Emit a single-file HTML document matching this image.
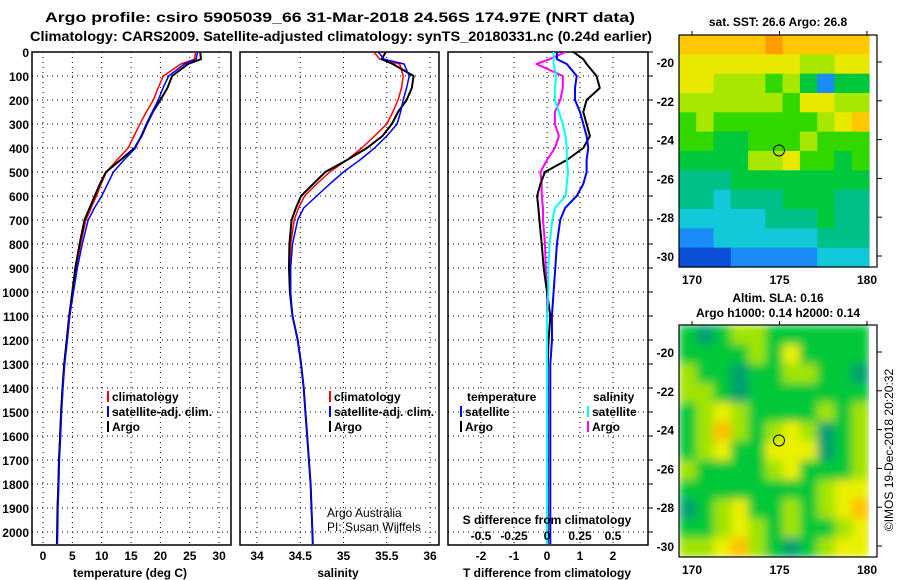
<!DOCTYPE html>
<html><head><meta charset="utf-8"><style>
html,body{margin:0;padding:0;background:#fff;width:900px;height:580px;overflow:hidden}
svg{display:block;font-family:"Liberation Sans",Arial,sans-serif}
.b{font-weight:bold;font-size:12px}
</style></head><body>
<svg id="chart" width="900" height="580" viewBox="0 0 900 580">
<defs>
<clipPath id="c1"><rect x="32" y="52" width="199" height="493"/></clipPath>
<clipPath id="c2"><rect x="240" y="52" width="199" height="493"/></clipPath>
<clipPath id="c3"><rect x="448" y="52" width="200" height="493"/></clipPath>
<clipPath id="cm2"><rect x="679" y="325" width="190" height="232"/></clipPath>
<filter id="blur" x="0" y="0" width="1" height="1"><feGaussianBlur stdDeviation="4.5" edgeMode="duplicate"/></filter>
</defs>
<text x="340" y="22" text-anchor="middle" font-weight="bold" font-size="14" textLength="590" lengthAdjust="spacingAndGlyphs">Argo profile: csiro 5905039_66 31-Mar-2018 24.56S 174.97E (NRT data)</text>
<text x="341" y="41" text-anchor="middle" font-weight="bold" font-size="14" textLength="622" lengthAdjust="spacingAndGlyphs">Climatology: CARS2009. Satellite-adjusted climatology: synTS_20180331.nc (0.24d earlier)</text>
<g id="panels"></g>
<g id="maps"></g>
<text transform="translate(893,450) rotate(-90)" text-anchor="middle" font-size="12">©IMOS 19-Dec-2018 20:20:32</text>
</svg>
<script>
const depths = [0,30,50,100,150,200,250,300,350,400,450,500,550,600,650,700,800,900,1000,1100,1200,1300,1400,1500,1600,1700,1800,1900,2000,2050];
const tempClim = [26.0,25.8,23.5,20.5,19.6,18.8,17.6,16.5,15.5,14.5,12.6,10.8,9.9,9.1,8.2,7.3,6.4,5.6,5.0,4.4,4.0,3.6,3.3,3.07,2.9,2.7,2.6,2.45,2.4,2.35];
const tempSat = [26.3,26.1,24.1,21.4,20.45,19.65,18.6,17.6,16.7,15.75,13.8,12.0,11.0,10.0,8.75,7.7,6.7,5.85,5.2,4.55,4.15,3.7,3.4,3.17,3.0,2.8,2.7,2.55,2.5,2.45];
const tempArgo = [26.8,26.9,24.7,22.0,21.2,20.0,18.7,17.7,16.8,15.6,13.2,10.74,9.7,8.8,7.94,7.07,6.24,5.5,5.0,4.5,4.05,3.62,3.32,3.09,2.92,2.72,2.62,2.47,2.42,2.37];
const salClim = [35.35,35.42,35.65,35.69,35.67,35.63,35.57,35.50,35.36,35.21,35.04,34.84,34.69,34.55,34.48,34.43,34.39,34.38,34.38,34.41,34.47,34.51,34.54,34.56,34.58,34.60,34.62,34.63,34.64,34.645];
const salSat = [35.40,35.47,35.70,35.76,35.73,35.69,35.66,35.62,35.50,35.36,35.19,35.00,34.84,34.69,34.54,34.47,34.41,34.39,34.39,34.41,34.47,34.51,34.54,34.56,34.58,34.60,34.62,34.63,34.64,34.645];
const salArgo = [35.49,35.44,35.57,35.81,35.79,35.73,35.63,35.56,35.45,35.27,35.04,34.79,34.65,34.51,34.45,34.40,34.375,34.37,34.38,34.41,34.47,34.51,34.54,34.56,34.58,34.60,34.62,34.63,34.64,34.645];
const depthTicks = [0,100,200,300,400,500,600,700,800,900,1000,1100,1200,1300,1400,1500,1600,1700,1800,1900,2000];
const tempTicks = [0,5,10,15,20,25,30];
const salTicks = [34,34.5,35,35.5,36];
const salTickLabels = ["34","34.5","35","35.5","36"];
const tdiffTicks = [-2,-1,0,1,2];
const sdiffTicks = [-0.5,-0.25,0,0.25,0.5];
const sdiffTickLabels = ["-0.5","-0.25","0","0.25","0.5"];
const mapLats = [-20,-22,-24,-26,-28,-30];
const mapLons = [170,175,180];
const profLon = 174.97, profLat = -24.56;
const sstGrid = [
[8,8,8,8,8,9,8,8,8,8,8],
[7,7,7,7,7,7,7,6,6,7,7],
[7,7,6,6,6,5,6,4,1,4,4],
[6,6,6,6,6,6,5,7,7,6,6],
[5,6,5,5,5,5,5,5,6,7,8],
[5,5,4,4,5,5,5,6,5,5,5],
[4,4,4,4,6,6,7,5,5,4,5],
[3,3,3,4,4,4,4,4,4,4,4],
[3,3,2,3,3,3,4,4,4,3,3],
[2,2,2,2,2,3,3,3,4,3,3],
[1,1,2,2,2,2,2,2,3,3,3],
[0,0,0,1,1,1,1,1,2,2,2]];
const slaGrid = [
[1,0,1,2,2,1,1,1,1,1,1],
[1,1,1,1,2,1,3,1,1,1,1],
[2,1,1,0,1,1,2,2,1,1,0],
[2,2,1,0,1,1,1,1,1,1,1],
[1,2,3,2,1,1,1,1,2,1,2],
[1,2,4,2,1,2,3,2,0,1,2],
[1,2,3,1,1,3,3,3,0,1,2],
[2,1,1,1,1,2,3,1,1,1,2],
[1,1,1,1,1,1,1,1,2,3,3],
[0,1,2,3,1,1,2,1,2,3,4],
[1,1,2,3,2,1,2,1,1,2,3],
[2,2,3,4,2,1,0,1,2,3,3]];
const sstColors = ["#0a4fd6","#1a8cf5","#10c8d8","#00c08a","#00c83c","#30d800","#a8e800","#e8e800","#ffc800","#ff9c00"];
const slaColors = ["#00a070","#00c838","#a0e400","#eaf000","#ffc000"];

const NS="http://www.w3.org/2000/svg";
function mk(tag, attrs, parent, txt){const e=document.createElementNS(NS,tag);for(const k in attrs)e.setAttribute(k,attrs[k]);if(txt!==undefined)e.textContent=txt;parent.appendChild(e);return e;}
const P=document.getElementById('panels');
const yD=d=>52+0.24*d;
const xT=t=>43+t*5.87;
const xS=s=>257+(s-34)*86.5;
const xTd=v=>547+v*33;
const xSd=v=>547+v*132;

function frame(x0,x1,name,ticksX,fx,withYLabels){
  const g=mk('g',{},P);
  
  
  depthTicks.forEach(d=>{
    const l=mk('line',{x1:x0,x2:x1,y1:yD(d),y2:yD(d),stroke:'#000','stroke-width':1,'stroke-dasharray':'1,4'},g);
    
    
    if(withYLabels){
      const t=mk('text',{x:29,y:yD(d)+5,'text-anchor':'end',class:'b'},g,String(d));
      
      
    }
  });
  ticksX.forEach(v=>{
    const l=mk('line',{x1:fx(v),x2:fx(v),y1:52,y2:545,stroke:'#000','stroke-width':1,'stroke-dasharray':'1,4'},g);
    
    
  });
  const r=mk('rect',{x:x0,y:52,width:x1-x0,height:493,fill:'none',stroke:'#000','stroke-width':1.5},g);
  
  
  return g;
}
function line(g,xs,fx,color,w,clip,name){
  const pts=depths.map((d,i)=>fx(xs[i]).toFixed(1)+','+yD(d).toFixed(1)).join(' ');
  const p=mk('polyline',{points:pts,fill:'none',stroke:color,'stroke-width':w,'clip-path':'url(#'+clip+')','stroke-linejoin':'round'},g);
  
  
}
function legend(g,x,y,items){
  items.forEach((it,i)=>{
    const r=mk('rect',{x:x,y:y+i*15-10,width:2,height:11,fill:it[0]},g);
    
    
    const t=mk('text',{x:x+5,y:y+i*15,class:'b'},g,it[1]);
    
    
  });
}
const g1=frame(32,231,'temperature-panel',tempTicks,xT,true);
line(g1,tempClim,xT,'#f00',1.5,'c1','temp-climatology-line');
line(g1,tempArgo,xT,'#000',2,'c1','temp-argo-line');
line(g1,tempSat,xT,'#00f',1.5,'c1','temp-satellite-line');
tempTicks.forEach(v=>{const t=mk('text',{x:xT(v),y:560,'text-anchor':'middle',class:'b'},g1,String(v));});
let t1=mk('text',{x:130,y:577,'text-anchor':'middle',class:'b'},g1,'temperature (deg C)');


legend(g1,107,401,[['#f00','climatology'],['#00f','satellite-adj. clim.'],['#000','Argo']]);
const g2=frame(240,439,'salinity-panel',salTicks,xS,false);
line(g2,salClim,xS,'#f00',1.5,'c2','sal-climatology-line');
line(g2,salArgo,xS,'#000',2,'c2','sal-argo-line');
line(g2,salSat,xS,'#00f',1.5,'c2','sal-satellite-line');
salTicks.forEach((v,i)=>{const t=mk('text',{x:xS(v),y:560,'text-anchor':'middle',class:'b'},g2,salTickLabels[i]);});
let t2=mk('text',{x:338,y:577,'text-anchor':'middle',class:'b'},g2,'salinity');


legend(g2,329,401,[['#f00','climatology'],['#00f','satellite-adj. clim.'],['#000','Argo']]);
let c1=mk('text',{x:327,y:517,'font-size':12},g2,'Argo Australia');


let c2=mk('text',{x:327,y:531,'font-size':12},g2,'PI: Susan Wijffels');


const g3=frame(448,648,'difference-panel',tdiffTicks,xTd,false);
depthTicks.forEach(d=>{const l=mk('line',{x1:648,x2:653,y1:yD(d),y2:yD(d),stroke:'#000'},g3);});
const dTsat=tempSat.map((v,i)=>v-tempClim[i]);
const dTargo=tempArgo.map((v,i)=>v-tempClim[i]);
const dSsat=salSat.map((v,i)=>v-salClim[i]);
const dSargo=salArgo.map((v,i)=>v-salClim[i]);
line(g3,dSargo,xSd,'#f0f',2,'c3','sal-argo-diff-line');
line(g3,dTargo,xTd,'#000',2,'c3','temp-argo-diff-line');
line(g3,dTsat,xTd,'#00f',2,'c3','temp-satellite-diff-line');
line(g3,dSsat,xSd,'#0ff',2,'c3','sal-satellite-diff-line');
tdiffTicks.forEach(v=>{const t=mk('text',{x:xTd(v),y:560,'text-anchor':'middle',class:'b'},g3,String(v));});
sdiffTicks.forEach((v,i)=>{const t=mk('text',{x:xSd(v),y:540,'text-anchor':'middle',class:'b'},g3,sdiffTickLabels[i]);});
let t3=mk('text',{x:547,y:577,'text-anchor':'middle',class:'b'},g3,'T difference from climatology');


let t4=mk('text',{x:547,y:524,'text-anchor':'middle',class:'b'},g3,'S difference from climatology');


let lt=mk('text',{x:467,y:401,class:'b'},g3,'temperature');


legend(g3,460,416,[['#00f','satellite'],['#000','Argo']]);
let ls=mk('text',{x:593,y:401,class:'b'},g3,'salinity');


legend(g3,587,416,[['#0ff','satellite'],['#f0f','Argo']]);

const M=document.getElementById('maps');
function drawMap(y0,grid,colors,name,blur,titles){
  const g=mk('g',{},M);
  
  
  const x0=679,w=190,h=232,rows=grid.length,cols=grid[0].length;
  const xL=lon=>692+(lon-170)*17.5;
  const yL=lat=>y0+27+(-20-lat)*19.4;
  const cg=mk('g',blur?{filter:'url(#blur)','clip-path':'url(#cm2)'}:{},g);
  grid.forEach((row,r)=>row.forEach((v,c)=>{
    const cell=mk('rect',{x:x0+c*w/cols,y:y0+r*h/rows,width:w/cols+0.6,height:h/rows+0.6,fill:colors[v]},cg);
    
    
  }));
  const fr=mk('rect',{x:x0,y:y0,width:198,height:h,fill:'none',stroke:'#000','stroke-width':1.2},g);
  
  
  mapLats.forEach(lat=>{
    mk('line',{x1:877,x2:882,y1:yL(lat),y2:yL(lat),stroke:'#000'},g);
    const t=mk('text',{x:674,y:yL(lat)+5,'text-anchor':'end',class:'b'},g,String(lat));
    
    
  });
  mapLons.forEach(lon=>{
    mk('line',{x1:xL(lon),x2:xL(lon),y1:y0-4,y2:y0,stroke:'#000'},g);
    const t=mk('text',{x:xL(lon),y:y0+h+17,'text-anchor':'middle',class:'b'},g,String(lon));
    
    
  });
  const m=mk('circle',{cx:xL(profLon),cy:yL(profLat),r:5.5,fill:'none',stroke:'#000','stroke-width':1},g);
  
  
  titles.forEach((tt,i)=>{
    const t=mk('text',{x:778,y:tt[1],'text-anchor':'middle',class:'b'},g,tt[0]);
    
    
  });
}
drawMap(35,sstGrid,sstColors,'sst-map',false,[['sat. SST: 26.6 Argo: 26.8',26]]);
drawMap(325,slaGrid,slaColors,'sla-map',true,[['Altim. SLA: 0.16',302],['Argo h1000: 0.14 h2000: 0.14',317]]);
</script>
</body></html>
